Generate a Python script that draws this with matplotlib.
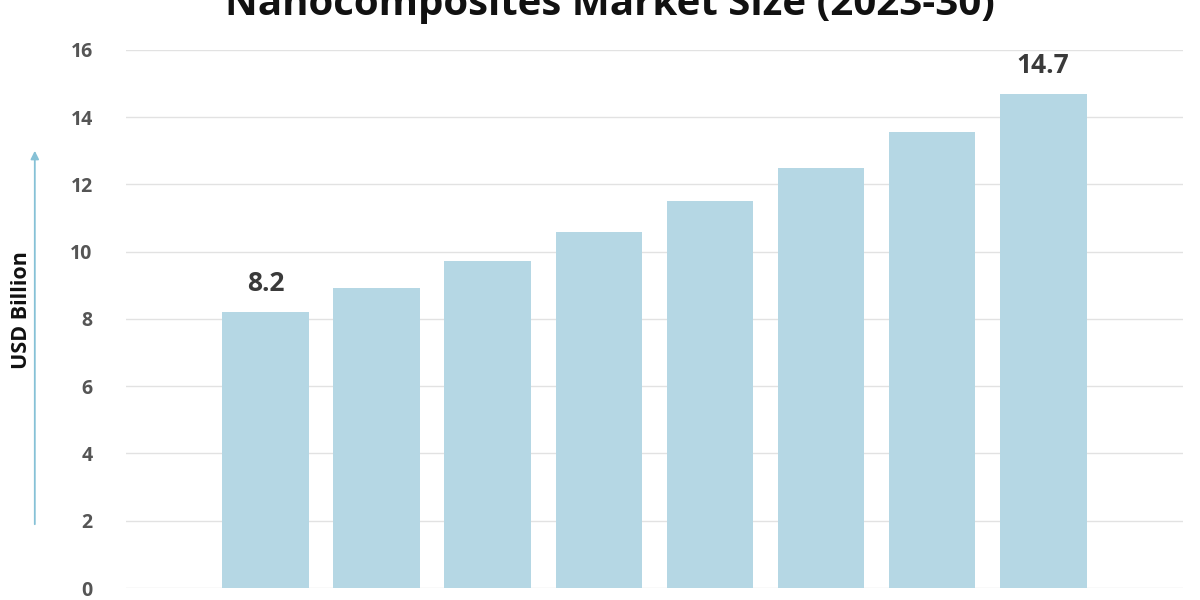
import matplotlib
matplotlib.use("Agg")
import matplotlib.pyplot as plt
import numpy as np

plt.rcParams['font.family'] = ['Open Sans', 'DejaVu Sans']

# data
years = ['2023', '2024', '2025', '2026', '2027', '2028', '2029', '2030']
market_size = [8.2, 8.92, 9.73, 10.58, 11.52, 12.5, 13.57, 14.7]
labelled = {0: '8.2', 7: '14.7'}
y_ticks = [0, 2, 4, 6, 8, 10, 12, 14, 16]

bar_color = '#b5d7e4'
grid_color = '#e2e2e2'

fig = plt.figure(figsize=(12, 6), dpi=100)
ax = fig.add_axes([0.105, 0.02, 0.881, 0.8967])

x = np.arange(len(years))
ax.bar(x, market_size, width=0.78, color=bar_color, zorder=2)

for i, txt in labelled.items():
    ax.text(x[i], market_size[i] + 0.45, txt, ha='center', va='bottom',
            fontsize=19, fontweight='bold', color='#3a3a3a', clip_on=False)

ax.set_xlim(-1.256, 8.26)
ax.set_ylim(0, 16)
ax.set_yticks(y_ticks)
ax.set_yticklabels([str(t) for t in y_ticks], fontsize=14, fontweight='bold', color='#555555')
# year labels sit below the visible crop in the reference
ax.set_xticks(x)
ax.set_xticklabels([])
ax.tick_params(axis='y', length=0, pad=24)
ax.tick_params(axis='x', length=0)
ax.grid(axis='y', color=grid_color, linewidth=1, zorder=0)
for s in ax.spines.values():
    s.set_visible(False)

# y axis caption with arrow
fig.text(0.018, 0.483, 'USD Billion', rotation=90, ha='center', va='center',
         fontsize=15.5, fontweight='bold', color='#111111')
fig.add_artist(matplotlib.patches.FancyArrowPatch(
    (0.029, 1 - 527 / 600), (0.029, 1 - 148 / 600), transform=fig.transFigure,
    arrowstyle='-|>', mutation_scale=12, color='#86c1d6', linewidth=1.3))

fig.text(0.508, 0.993, 'Nanocomposites Market Size (2023-30)', ha='center', va='center',
         fontsize=29, fontweight='bold', color='#111111')

fig.savefig('out.png', dpi=100)
